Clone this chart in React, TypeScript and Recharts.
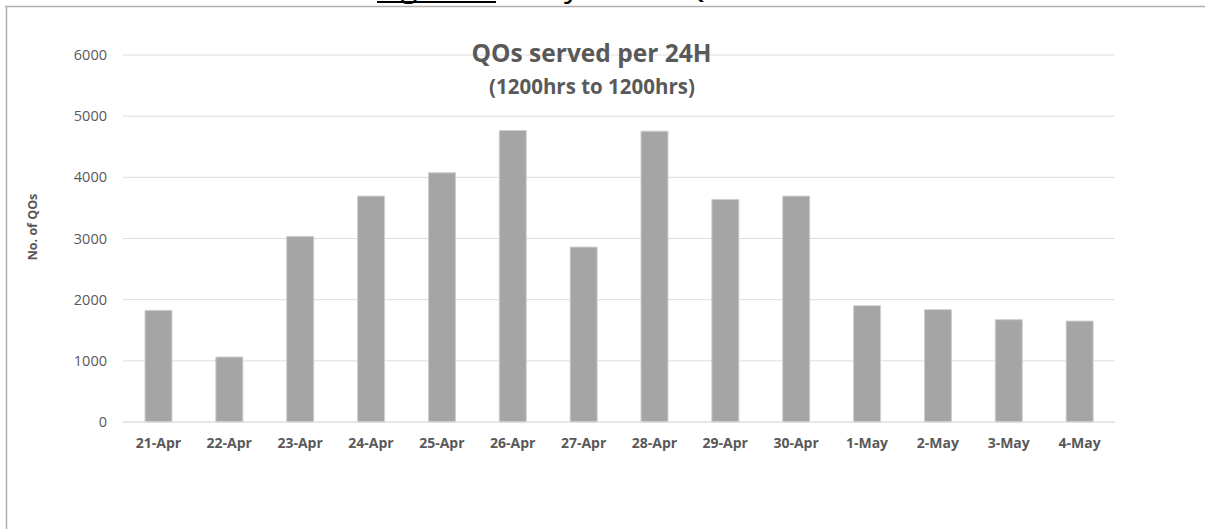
import React from 'react';
import { BarChart, Bar, XAxis, YAxis, CartesianGrid } from 'recharts';

const categories = ['21-Apr', '22-Apr', '23-Apr', '24-Apr', '25-Apr', '26-Apr', '27-Apr', '28-Apr', '29-Apr', '30-Apr', '1-May', '2-May', '3-May', '4-May'];
const qosServed = [1825, 1062, 3034, 3693, 4075, 4766, 2860, 4755, 3639, 3693, 1902, 1837, 1673, 1650];
const yTicks = [0, 1000, 2000, 3000, 4000, 5000, 6000];

const chartTitle = 'QOs served per 24H';
const chartSubtitle = '(1200hrs to 1200hrs)';
const yAxisTitle = 'No. of QOs';
const captionLabel = 'Figure 2';
const captionRest = ': Daily No. of QOs served';

const data = categories.map((c, i) => ({ date: c, qos: qosServed[i] }));

const FONT = '"Open Sans", "DejaVu Sans", sans-serif';

export default function App() {
  return (
    <div style={{ position: 'absolute', left: 0, top: 0, width: 1205, height: 529, overflow: 'hidden', background: '#ffffff' }}>
      <BarChart width={1205} height={529} data={data} margin={{ top: 55, right: 90, bottom: 77, left: 0 }}>
        <CartesianGrid vertical={false} stroke="#dedede" strokeWidth={1} />
        <XAxis
          dataKey="date"
          height={30}
          interval={0}
          tickLine={false}
          tickSize={0}
          tickMargin={16}
          axisLine={{ stroke: '#dedede' }}
          tick={{ fill: '#595959', fontSize: 14, fontWeight: 700, fontFamily: FONT }}
        />
        <YAxis
          width={123}
          domain={[0, 6000]}
          ticks={yTicks}
          interval={0}
          axisLine={false}
          tickLine={false}
          tickSize={0}
          tickMargin={16}
          tick={{ fill: '#595959', fontSize: 14.5, fontFamily: FONT }}
        />
        <Bar dataKey="qos" fill="#a5a5a5" stroke="#cfcfcf" strokeWidth={1} barSize={27} isAnimationActive={false} />
      </BarChart>
      <svg width={1205} height={529} style={{ position: 'absolute', left: 0, top: 0, pointerEvents: 'none' }}>
        <line x1={5} y1={6.5} x2={1205} y2={6.5} stroke="#b0b0b0" strokeWidth={1.5} />
        <line x1={6.5} y1={6} x2={6.5} y2={529} stroke="#b0b0b0" strokeWidth={1.5} />
        <text x={377} y={-3} fontFamily={FONT} fontSize={31} fill="#000">
          <tspan>{captionLabel}</tspan>
          <tspan>{captionRest}</tspan>
        </text>
        <rect x={377} y={1} width={119} height={2} fill="#000" />
        <text x={591.5} y={62} textAnchor="middle" fontFamily={FONT} fontSize={24.5} fontWeight={700} fill="#595959">
          {chartTitle}
        </text>
        <text x={592} y={94} textAnchor="middle" fontFamily={FONT} fontSize={20.5} fontWeight={700} fill="#595959">
          {chartSubtitle}
        </text>
        <text
          x={32}
          y={227}
          textAnchor="middle"
          dominantBaseline="central"
          transform="rotate(-90, 32, 227)"
          fontFamily={FONT}
          fontSize={12.5}
          fontWeight={700}
          fill="#595959"
        >
          {yAxisTitle}
        </text>
      </svg>
    </div>
  );
}
